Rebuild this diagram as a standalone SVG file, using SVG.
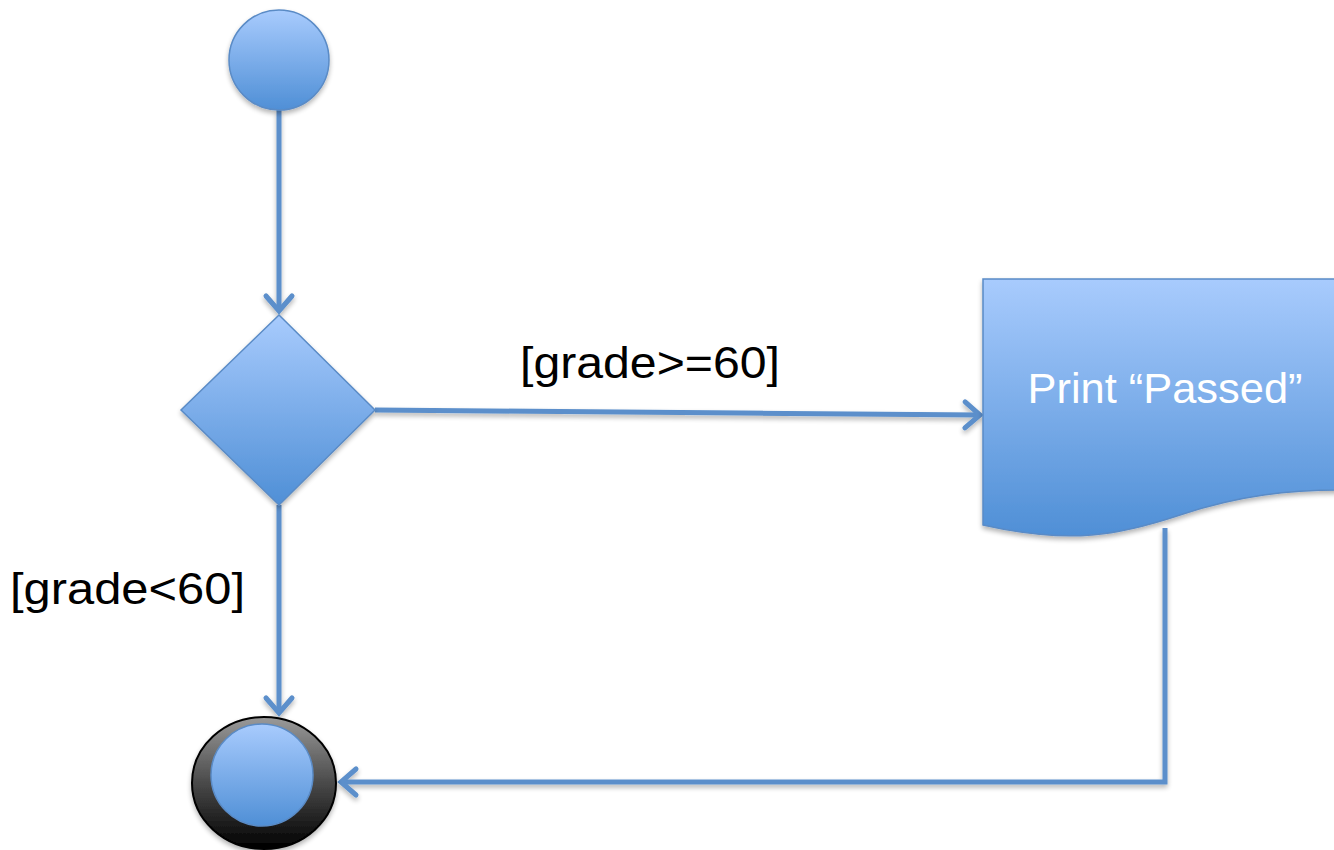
<svg xmlns="http://www.w3.org/2000/svg" width="1334" height="850" viewBox="0 0 1334 850">
  <style>
    .shape { fill: url(#blueFill); stroke: #5a8bc6; stroke-width: 1.5; filter: url(#shadow); }
    .conn { fill: none; stroke: #5b8fcb; stroke-width: 5; stroke-linejoin: miter; }
    .label { font-family: "Liberation Sans", Arial, sans-serif; font-size: 45px; fill: #000; }
    .inner { font-family: "Liberation Sans", Arial, sans-serif; font-size: 43px; fill: #fff; }
  </style>
  <defs>
    <linearGradient id="blueFill" x1="0" y1="0" x2="0" y2="1">
      <stop offset="0" stop-color="#a8cbfd"/>
      <stop offset="1" stop-color="#4f8fd6"/>
    </linearGradient>
    <linearGradient id="darkFill" x1="0" y1="0" x2="0" y2="1">
      <stop offset="0" stop-color="#9a9a9a"/>
      <stop offset="0.5" stop-color="#4a4a4a"/>
      <stop offset="1" stop-color="#000"/>
    </linearGradient>
    <filter id="shadow" filterUnits="userSpaceOnUse" x="0" y="0" width="1334" height="850">
      <feGaussianBlur in="SourceAlpha" stdDeviation="2.5"/>
      <feOffset dx="0" dy="3" result="b"/>
      <feComponentTransfer><feFuncA type="linear" slope="0.3"/></feComponentTransfer>
      <feMerge><feMergeNode/><feMergeNode in="SourceGraphic"/></feMerge>
    </filter>
    <marker id="arrow" markerUnits="userSpaceOnUse" markerWidth="40" markerHeight="40" viewBox="-20 -20 40 40" refX="0" refY="0" orient="auto">
      <path d="M-15,-13 L0,0 L-15,13" fill="none" stroke="#5b8fcb" stroke-width="5" stroke-linecap="round" stroke-linejoin="miter"/>
    </marker>
  </defs>

  <!-- connectors -->
  <g id="connectors" filter="url(#shadow)">
    <path class="conn" d="M279,110 L279,311" marker-end="url(#arrow)"/>
    <path class="conn" d="M375,410 L980,415" marker-end="url(#arrow)"/>
    <path class="conn" d="M279,505 L279,713" marker-end="url(#arrow)"/>
    <path class="conn" d="M1165,528 L1165,782 L341,782" marker-end="url(#arrow)"/>
  </g>

  <!-- initial node -->
  <g id="start">
    <circle class="shape" cx="279" cy="60" r="50"/>
  </g>

  <!-- decision -->
  <g id="decision">
    <polygon class="shape" points="279,315 375,410 279,505 181,410"/>
  </g>

  <!-- print action (document shape) -->
  <g id="print-passed">
    <path class="shape" d="M983,279 L1340,279 L1340,490 C1290,490 1240,495 1180,515 C1120,535 1070,545 983,525 Z"/>
    <text class="inner" x="1165" y="403" text-anchor="middle" textLength="275" lengthAdjust="spacingAndGlyphs">Print “Passed”</text>
  </g>

  <!-- final node -->
  <g id="end">
    <ellipse cx="264" cy="783" rx="72" ry="66" fill="url(#darkFill)" stroke="#000" stroke-width="2" filter="url(#shadow)"/>
    <circle cx="262" cy="775" r="51" fill="url(#blueFill)" stroke="#5a8bc6" stroke-width="1.5"/>
  </g>

  <!-- guard labels -->
  <g id="guards">
    <text class="label" x="520" y="378" textLength="260" lengthAdjust="spacingAndGlyphs">[grade&gt;=60]</text>
    <text class="label" x="10" y="604" textLength="235" lengthAdjust="spacingAndGlyphs">[grade&lt;60]</text>
  </g>
</svg>
